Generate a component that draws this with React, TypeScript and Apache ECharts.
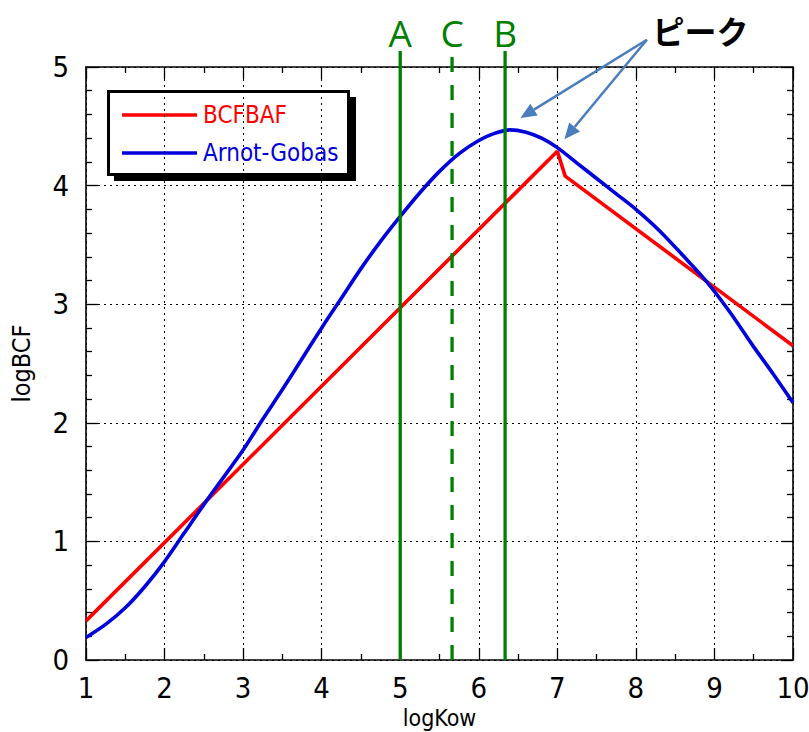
import React, { useEffect, useRef } from 'react';
import * as echarts from 'echarts';

// BCFBAF model (red)
const bcfbafX = [1, 7, 7.1, 10];
const bcfbafY = [0.33, 4.29, 4.08, 2.65];

// Arnot-Gobas model (blue)
const arnotX = [1, 1.25, 1.5, 1.75, 2, 2.25, 2.5, 2.75, 3, 3.25, 3.5, 3.75, 4, 4.25, 4.5, 4.75, 5, 5.25, 5.5, 5.75, 6, 6.2, 6.4, 6.6, 6.8, 7, 7.25, 7.5, 7.75, 8, 8.3, 8.6, 8.9, 9.2, 9.5, 9.75, 10];
const arnotY = [0.19, 0.3, 0.44, 0.62, 0.83, 1.07, 1.31, 1.54, 1.77, 2.03, 2.28, 2.54, 2.8, 3.05, 3.3, 3.53, 3.74, 3.94, 4.12, 4.27, 4.38, 4.44, 4.47, 4.45, 4.4, 4.32, 4.19, 4.06, 3.93, 3.8, 3.62, 3.41, 3.19, 2.93, 2.64, 2.41, 2.17];

// vertical markers
const markerX = [5, 5.66, 6.335];
const markerLabels = ['A', 'C', 'B'];
const markerDashed = [false, true, false];

// peak annotation
const peakText = 'ピーク';
const peakTextPos = [8.21, 5.31];
const arrowStart = [8.14, 5.23];
const arrowTips = [[6.53, 4.57], [7.09, 4.39]];

const legendNames = ['BCFBAF', 'Arnot-Gobas'];
const RED = '#ff0000';
const BLUE = '#0000dd';
const GREEN = '#008000';
const ARROW = '#4a7dbb';
const NARROW = "'Liberation Sans Narrow', 'DejaVu Sans Condensed', sans-serif";

export default function App() {
  const ref = useRef<HTMLDivElement>(null);
  useEffect(() => {
    if (!ref.current) return;
    const chart = echarts.init(ref.current, null, { renderer: 'svg' });

    const tickStyle = { color: '#000', width: 1.3 };
    const baseX = {
      type: 'value',
      min: 1,
      max: 10,
      interval: 1,
      axisLine: { show: true, onZero: false, lineStyle: { color: '#000', width: 1.6 } },
      axisTick: { show: true, inside: true, length: 12, lineStyle: tickStyle },
      minorTick: { show: true, splitNumber: 2, length: 6, lineStyle: tickStyle },
    };
    const baseY = {
      type: 'value',
      min: 0,
      max: 5,
      interval: 1,
      axisLine: { show: true, onZero: false, lineStyle: { color: '#000', width: 1.6 } },
      axisTick: { show: true, inside: true, length: 12, lineStyle: tickStyle },
      minorTick: { show: true, splitNumber: 5, length: 6, lineStyle: tickStyle },
    };

    const option: any = {
      animation: false,
      backgroundColor: '#fff',
      grid: { left: 86, right: 16, top: 67, bottom: 72, outerBoundsMode: 'none', containLabel: false },
      xAxis: [
        {
          ...baseX,
          position: 'bottom',
          name: 'logKow',
          nameLocation: 'middle',
          nameGap: 38,
          nameTextStyle: { fontSize: 23, color: '#000', fontFamily: NARROW },
          axisLabel: { fontSize: 29, color: '#000', fontFamily: NARROW, margin: 13 },
          splitLine: { show: true, lineStyle: { color: '#000', width: 1, type: [2, 4] } },
        },
        {
          ...baseX,
          position: 'top',
          axisLabel: { show: false },
          splitLine: { show: false },
        },
      ],
      yAxis: [
        {
          ...baseY,
          position: 'left',
          name: 'logBCF',
          nameLocation: 'middle',
          nameGap: 52,
          nameTextStyle: { fontSize: 25, color: '#000', fontFamily: NARROW },
          axisLabel: { fontSize: 29, color: '#000', fontFamily: NARROW, margin: 17 },
          splitLine: { show: true, lineStyle: { color: '#000', width: 1, type: [2, 4] } },
        },
        {
          ...baseY,
          position: 'right',
          axisLabel: { show: false },
          splitLine: { show: false },
        },
      ],
      series: [
        {
          name: legendNames[0],
          type: 'line',
          data: bcfbafX.map((x, i) => [x, bcfbafY[i]]),
          showSymbol: false,
          lineStyle: { color: RED, width: 3.6 },
          z: 3,
        },
        {
          name: legendNames[1],
          type: 'line',
          data: arnotX.map((x, i) => [x, arnotY[i]]),
          showSymbol: false,
          smooth: 0.3,
          lineStyle: { color: BLUE, width: 3.6 },
          z: 4,
        },
        {
          type: 'custom',
          clip: false,
          z: 6,
          data: markerX.map((x) => [x, 0]),
          encode: { x: 0, y: 1 },
          renderItem: (params: any, api: any) => {
            const x = api.value(0);
            const b = api.coord([x, 0]);
            const t = api.coord([x, 5]);
            const dashed = markerDashed[params.dataIndex];
            return {
              type: 'group',
              children: [
                {
                  type: 'line',
                  shape: { x1: b[0], y1: b[1], x2: t[0], y2: t[1] - 16 },
                  style: { stroke: GREEN, lineWidth: 3.3, lineDash: dashed ? [15, 13] : null },
                },
                {
                  type: 'text',
                  x: t[0],
                  y: t[1] - 35,
                  style: {
                    text: markerLabels[params.dataIndex],
                    fill: GREEN,
                    fontSize: 37,
                    fontFamily: "'Open Sans', 'Noto Sans', sans-serif",
                    align: 'center',
                    verticalAlign: 'middle',
                  },
                },
              ],
            };
          },
        },
        {
          type: 'custom',
          clip: false,
          z: 7,
          data: arrowTips.map((t) => [arrowStart[0], arrowStart[1], t[0], t[1]]),
          encode: { x: [0, 2], y: [1, 3] },
          renderItem: (params: any, api: any) => {
            const s = api.coord([api.value(0), api.value(1)]);
            const t = api.coord([api.value(2), api.value(3)]);
            const dx = t[0] - s[0];
            const dy = t[1] - s[1];
            const len = Math.hypot(dx, dy);
            const ux = dx / len;
            const uy = dy / len;
            const headLen = 16;
            const headW = 7;
            const bx = t[0] - ux * headLen;
            const by = t[1] - uy * headLen;
            return {
              type: 'group',
              children: [
                {
                  type: 'line',
                  shape: { x1: s[0], y1: s[1], x2: bx, y2: by },
                  style: { stroke: ARROW, lineWidth: 2.5 },
                },
                {
                  type: 'polygon',
                  shape: {
                    points: [
                      [t[0], t[1]],
                      [bx - uy * headW, by + ux * headW],
                      [bx + uy * headW, by - ux * headW],
                    ],
                  },
                  style: { fill: ARROW },
                },
              ],
            };
          },
        },
        {
          type: 'custom',
          clip: false,
          z: 7,
          data: [peakTextPos],
          encode: { x: 0, y: 1 },
          renderItem: (params: any, api: any) => {
            const p = api.coord([api.value(0), api.value(1)]);
            return {
              type: 'text',
              x: p[0],
              y: p[1],
              style: {
                text: peakText,
                fill: '#000',
                fontSize: 32,
                fontWeight: 'bold',
                fontFamily: "'Noto Sans CJK JP', sans-serif",
                align: 'left',
                verticalAlign: 'middle',
              },
            };
          },
        },
      ],
      graphic: [
        {
          type: 'group',
          z: 100,
          children: [
            { type: 'rect', shape: { x: 114, y: 97, width: 242, height: 84 }, style: { fill: '#000' } },
            { type: 'rect', shape: { x: 108.5, y: 91.5, width: 240, height: 83 }, style: { fill: '#fff', stroke: '#000', lineWidth: 3 } },
            { type: 'line', shape: { x1: 122, y1: 115, x2: 197, y2: 115 }, style: { stroke: RED, lineWidth: 3.6 } },
            { type: 'line', shape: { x1: 122, y1: 153, x2: 197, y2: 153 }, style: { stroke: BLUE, lineWidth: 3.6 } },
            {
              type: 'text',
              x: 203,
              y: 115,
              style: { text: legendNames[0], fill: RED, fontSize: 24, fontFamily: NARROW, verticalAlign: 'middle', align: 'left' },
            },
            {
              type: 'text',
              x: 203,
              y: 153,
              style: { text: legendNames[1], fill: BLUE, fontSize: 24, fontFamily: NARROW, verticalAlign: 'middle', align: 'left' },
            },
          ],
        },
      ],
    };

    chart.setOption(option);
    return () => chart.dispose();
  }, []);

  return (
    <div
      ref={ref}
      style={{ position: 'fixed', left: 0, top: 0, width: 809, height: 732, background: '#fff' }}
    />
  );
}
